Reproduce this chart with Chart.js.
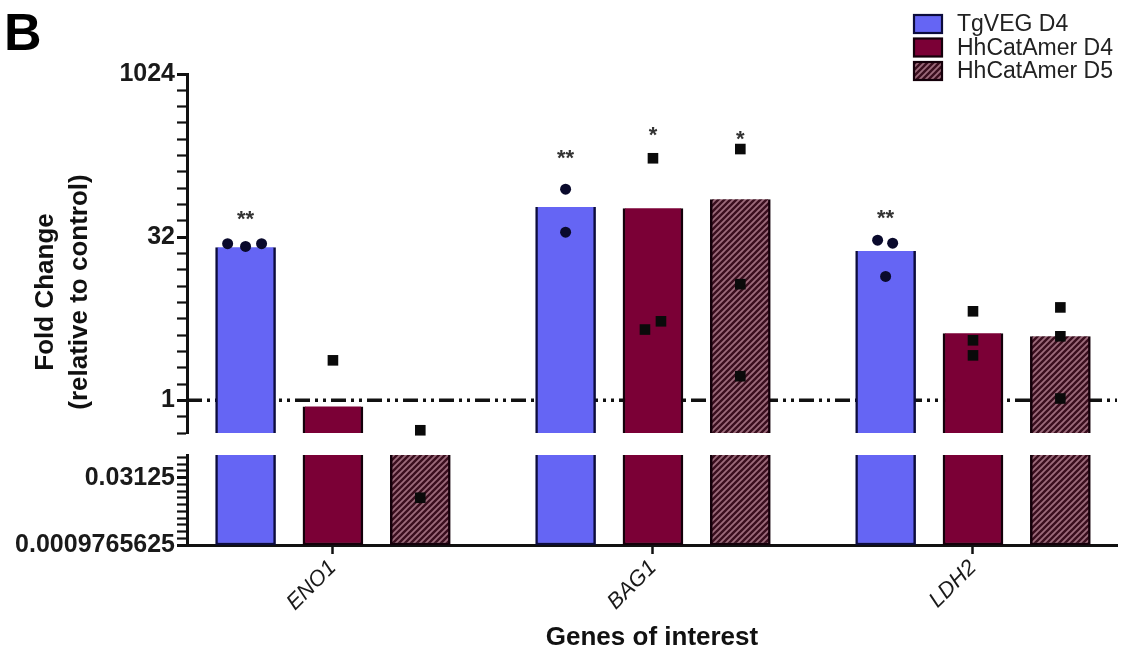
<!DOCTYPE html>
<html>
<head>
<meta charset="utf-8">
<script src="https://cdn.jsdelivr.net/npm/chart.js@4.4.0/dist/chart.umd.min.js"></script>
<style>
  html, body { margin: 0; padding: 0; background: #fff; }
  #wrap { width: 1136px; height: 656px; position: relative; }
</style>
</head>
<body>
<div id="wrap"><canvas id="chart"></canvas></div>
<script>
// genes on the x axis and the three groups
const genes = ["ENO1", "BAG1", "LDH2"];
const seriesNames = ["TgVEG D4", "HhCatAmer D4", "HhCatAmer D5"];

// bar heights, fold change relative to control
const tgvegD4 = [25.9, 60.6, 23.8];
const hhcatD4 = [0.88, 59.3, 4.16];
const hhcatD5 = [0.25, 71.8, 3.9];

// replicate points
const tgvegD4Points = [[27.9, 26.3, 27.9], [88.8, 35.6], [30.0, 28.2, 13.9]];
const hhcatD4Points = [[2.34], [171, 4.5, 5.36], [6.63, 3.58, 2.6]];
const hhcatD5Points = [[0.53, 0.0111], [208, 11.8, 1.67], [7.2, 3.9, 1.04]];

// significance marks and where they sit
const sigMarks = [["**", "", ""], ["**", "*", "*"], ["**", "", ""]];
const sigHeights = [[53, null, null], [194, 318, 292], [54.5, null, null]];

// broken log2 axis: labelled ticks of each part
const upperTicks = [1, 32, 1024];
const lowerTicks = [0.0009765625, 0.03125];
const upperRange = [0.5, 1024];
const lowerRange = [0.0009765625, 0.1];
const controlLevel = 1;

// ---- layout helpers ----
const FONT = '"Liberation Sans", Arial, Helvetica, sans-serif';
Chart.defaults.font.family = FONT;
const seriesOffset = [-0.273, 0, 0.273];
const jitter = [
  [[-0.056, 0, 0.05], [0, 0], [-0.025, 0.022, 0]],
  [[0], [0, -0.025, 0.025], [0, 0, 0]],
  [[0, 0], [0, 0, 0], [0, 0, 0]]
];
const xMin = -0.456, xMax = 2.45;
const L2 = v => Math.log2(v);

function hatch(dark, light) {
  const c = document.createElement("canvas");
  c.width = c.height = 6;
  const g = c.getContext("2d");
  g.fillStyle = light;
  g.fillRect(0, 0, 6, 6);
  g.strokeStyle = dark;
  g.lineWidth = 2.4;
  g.beginPath();
  g.moveTo(-1, 7); g.lineTo(7, -1);
  g.moveTo(-1, 1); g.lineTo(1, -1);
  g.moveTo(5, 7); g.lineTo(7, 5);
  g.stroke();
  return g.createPattern(c, "repeat");
}

const fills = ["#6565f4", "#7b0036", hatch("#3a0e1e", "#9c6b7b")];
const borders = ["#0c0c3c", "#14000a", "#14000a"];
const barValues = [tgvegD4, hhcatD4, hhcatD5];
const pointValues = [tgvegD4Points, hhcatD4Points, hhcatD5Points];

function barSet(s, axis) {
  return {
    type: "bar",
    label: seriesNames[s],
    xAxisID: "x",
    yAxisID: axis,
    data: barValues[s].map((v, i) => ({ x: i + seriesOffset[s], y: [L2(lowerRange[0]), L2(v)] })),
    backgroundColor: fills[s],
    borderColor: borders[s],
    borderWidth: 2.5,
    borderSkipped: "start",
    barThickness: 60,
    grouped: false,
    order: 5
  };
}

function pointSet(s, axis) {
  const data = [];
  pointValues[s].forEach((arr, i) => arr.forEach((v, k) => {
    const isUpper = v >= upperRange[0];
    if ((axis === "yUp") === isUpper) {
      data.push({ x: i + seriesOffset[s] + jitter[s][i][k], y: L2(v) });
    }
  }));
  return {
    type: "scatter",
    xAxisID: "x",
    yAxisID: axis,
    data,
    pointStyle: s === 0 ? "circle" : "rect",
    pointRadius: s === 0 ? 5.5 : 7.5,
    backgroundColor: s === 0 ? "#0a0a2c" : "#0a0a0a",
    borderWidth: 0,
    clip: false,
    order: 1
  };
}

const datasets = [];
for (let s = 0; s < 3; s++) {
  datasets.push(barSet(s, "yUp"), barSet(s, "yLow"));
}
for (let s = 0; s < 3; s++) {
  datasets.push(pointSet(s, "yUp"), pointSet(s, "yLow"));
}
datasets.push({
  type: "line",
  xAxisID: "x",
  yAxisID: "yUp",
  data: [{ x: xMin, y: L2(controlLevel) }, { x: xMax, y: L2(controlLevel) }],
  borderColor: "#111",
  borderWidth: 3.5,
  borderDash: [15, 5, 3, 5, 3, 5],
  pointRadius: 0,
  order: 10
});

function halfSteps(scale) {
  const out = [];
  for (let v = Math.ceil(scale.min * 2) / 2; v <= scale.max + 1e-9; v += 0.5) out.push({ value: v });
  scale.ticks = out;
}
function logLabel(list) {
  return v => {
    const hit = list.find(t => Math.abs(L2(t) - v) < 1e-6);
    return hit === undefined ? "" : String(hit);
  };
}
function isMajor(list) {
  return ctx => list.some(t => Math.abs(L2(t) - ctx.tick.value) < 1e-6) ? 3 : 2.2;
}

const yTickFont = { size: 25, weight: "bold" };

function yScale(range, list, weight) {
  return {
    type: "linear",
    position: "left",
    stack: "fold",
    stackWeight: weight,
    min: L2(range[0]),
    max: L2(range[1]),
    afterBuildTicks: halfSteps,
    afterFit: s => { s.width = 187; },
    ticks: { callback: logLabel(list), autoSkip: false, font: yTickFont, color: "#1a1a1a", padding: 2 },
    grid: { drawOnChartArea: false, tickLength: 10, tickColor: "#111", tickWidth: isMajor(list) },
    border: { color: "#111", width: 3 }
  };
}

// clip each bar copy to its own part of the broken axis
const segmentClip = {
  id: "segmentClip",
  beforeDatasetDraw(chart, args) {
    const meta = args.meta;
    if (meta.type !== "bar") return;
    const ys = chart.scales[meta.yAxisID];
    const a = chart.chartArea;
    chart.ctx.save();
    chart.ctx.beginPath();
    chart.ctx.rect(a.left, ys.top, a.right - a.left, ys.bottom - ys.top);
    chart.ctx.clip();
  },
  afterDatasetDraw(chart, args) {
    if (args.meta.type !== "bar") return;
    chart.ctx.restore();
  }
};

const decorations = {
  id: "decorations",
  afterDatasetsDraw(chart) {
    const { ctx, scales: { x, yUp } } = chart;
    ctx.save();
    // significance stars
    ctx.font = "bold 22px " + FONT;
    ctx.fillStyle = "#333";
    ctx.textAlign = "center";
    ctx.textBaseline = "alphabetic";
    sigMarks.forEach((row, i) => row.forEach((m, s) => {
      if (!m) return;
      ctx.fillText(m, x.getPixelForValue(i + seriesOffset[s]), yUp.getPixelForValue(L2(sigHeights[i][s])) + 13);
    }));
    ctx.restore();
  },
  afterDraw(chart) {
    const ctx = chart.ctx;
    ctx.save();
    // panel letter
    ctx.fillStyle = "#000";
    ctx.font = "bold 52px " + FONT;
    ctx.textAlign = "left";
    ctx.textBaseline = "alphabetic";
    ctx.fillText("B", 4, 50);
    // y title
    ctx.font = "bold 26px " + FONT;
    ctx.fillStyle = "#111";
    ctx.textAlign = "center";
    ctx.textBaseline = "middle";
    [["Fold Change", 46], ["(relative to control)", 80]].forEach(([t, cx]) => {
      ctx.save();
      ctx.translate(cx, 292);
      ctx.rotate(-Math.PI / 2);
      ctx.fillText(t, 0, 0);
      ctx.restore();
    });
    // legend
    ctx.font = "23px " + FONT;
    ctx.textAlign = "left";
    seriesNames.forEach((name, s) => {
      const cy = 24 + s * 23.5;
      ctx.fillStyle = fills[s];
      ctx.fillRect(914, cy - 9, 28, 18);
      ctx.strokeStyle = borders[s];
      ctx.lineWidth = 2.2;
      ctx.strokeRect(914, cy - 9, 28, 18);
      ctx.fillStyle = "#222";
      ctx.fillText(name, 957, cy + 1);
    });
    ctx.restore();
  }
};

new Chart(document.getElementById("chart"), {
  type: "bar",
  data: { datasets },
  options: {
    responsive: true,
    maintainAspectRatio: false,
    animation: false,
    devicePixelRatio: 1,
    layout: { padding: { top: 74, right: 19, bottom: 0, left: 0 } },
    plugins: { legend: { display: false }, tooltip: { enabled: false } },
    scales: {
      x: {
        type: "linear",
        position: "bottom",
        offset: false,
        min: xMin,
        max: xMax,
        afterBuildTicks: s => { s.ticks = genes.map((g, i) => ({ value: i })); },
        afterFit: s => { s.height = 111; },
        ticks: {
          callback: v => genes[v],
          autoSkip: false,
          minRotation: 45,
          maxRotation: 45,
          font: { size: 22, style: "italic" },
          color: "#1a1a1a",
          padding: 1
        },
        grid: { offset: false, drawOnChartArea: false, tickLength: 9, tickWidth: 2.5, tickColor: "#111" },
        border: { color: "#111", width: 3 },
        title: {
          display: true,
          text: "Genes of interest",
          font: { size: 26, weight: "bold" },
          color: "#111",
          padding: { top: 0, bottom: 3 }
        }
      },
      yLow: yScale(lowerRange, lowerTicks, 90),
      yGap: { type: "linear", position: "left", stack: "fold", stackWeight: 22, display: false },
      yUp: yScale(upperRange, upperTicks, 359)
    }
  },
  plugins: [segmentClip, decorations]
});
</script>
</body>
</html>
